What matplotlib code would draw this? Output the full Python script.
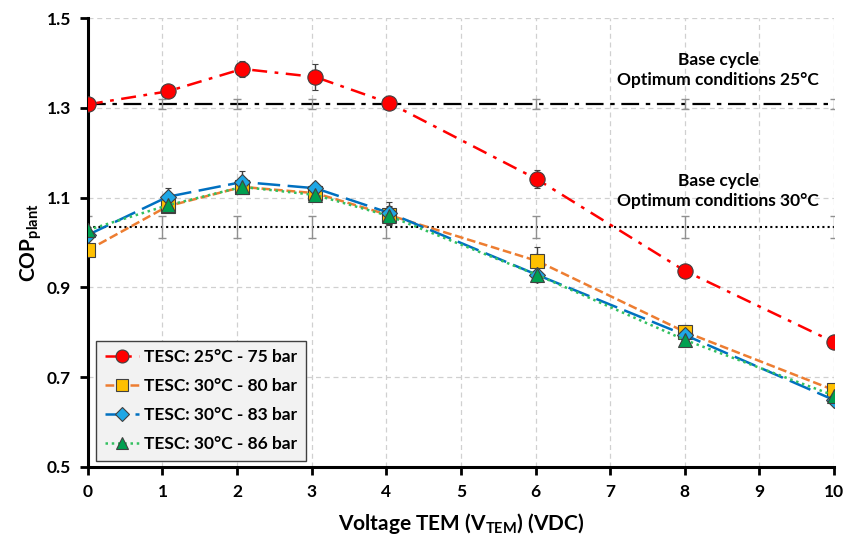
import numpy as np
import matplotlib.pyplot as plt
from matplotlib.lines import Line2D

plt.rcParams['font.family'] = ['Lato', 'DejaVu Sans']
plt.rcParams['font.weight'] = 'bold'
plt.rcParams['mathtext.fontset'] = 'custom'
plt.rcParams['mathtext.rm'] = 'Lato'
plt.rcParams['mathtext.bf'] = 'Lato:bold'

# measured points (x is slightly off the integer voltages)
volt = [0, 1.07, 2.07, 3.05, 4.04, 6.02, 8.0, 10]
cop_25_75 = [1.308, 1.337, 1.387, 1.369, 1.311, 1.141, 0.937, 0.778]
err_25_75 = [0.005, 0.012, 0.018, 0.030, 0.008, 0.020, 0.008, 0.008]
cop_30_80 = [0.983, 1.081, 1.124, 1.110, 1.061, 0.959, 0.801, 0.671]
err_30_80 = [0.006, 0.012, 0.012, 0.010, 0.020, 0.030, 0.015, 0.008]
cop_30_83 = [1.017, 1.102, 1.135, 1.121, 1.066, 0.928, 0.794, 0.649]
err_30_83 = [0.006, 0.020, 0.025, 0.012, 0.025, 0.015, 0.010, 0.006]
cop_30_86 = [1.028, 1.083, 1.124, 1.106, 1.059, 0.928, 0.783, 0.659]
err_30_86 = [0.006, 0.012, 0.012, 0.010, 0.020, 0.015, 0.010, 0.006]

labels = ['TESC: 25°C - 75 bar', 'TESC: 30°C - 80 bar',
          'TESC: 30°C - 83 bar', 'TESC: 30°C - 86 bar']

# base cycle references
base_x = [0, 1, 2, 3, 4, 6, 8, 10]
base_25 = 1.308
base_25_err = 0.011
base_30 = 1.035
base_30_err = 0.025

fig, ax = plt.subplots(figsize=(8.45, 5.36), dpi=100)
fig.subplots_adjust(left=0.104, right=0.987, top=0.966, bottom=0.129)

ax.grid(True, ls=(0, (4, 3)), color='#d0d0d0', lw=0.9, zorder=0)

# base lines with their error bars
ax.plot([0, 10], [base_25, base_25], color='black', lw=1.6,
        ls=(0, (8, 3, 2, 3)), zorder=2)
ax.errorbar(base_x, [base_25]*len(base_x), yerr=base_25_err, fmt='none',
            ecolor='#909090', elinewidth=1, capsize=3, zorder=2)
ax.plot([0, 10], [base_30, base_30], color='black', lw=1.5,
        ls=(0, (1, 1.5)), zorder=2)
ax.errorbar(base_x, [base_30]*len(base_x), yerr=base_30_err, fmt='none',
            ecolor='#909090', elinewidth=1, capsize=3, zorder=2)

styles = [
    dict(color='#ff0000', ls=(0, (6, 3, 1.5, 3)), marker='o', ms=11, mfc='#ff0000'),
    dict(color='#ed7d31', ls=(0, (3.5, 1.5)), marker='s', ms=10, mfc='#ffc000'),
    dict(color='#0070c0', ls=(0, (9, 3)), marker='D', ms=8, mfc='#1ea7e6'),
    dict(color='#33c060', ls=(0, (1, 1.5)), marker='^', ms=10, mfc='#00a050'),
]
series = [(cop_25_75, err_25_75), (cop_30_80, err_30_80),
          (cop_30_83, err_30_83), (cop_30_86, err_30_86)]

handles = []
for i, ((y, e), st, lab) in enumerate(zip(series, styles, labels)):
    ax.errorbar(volt, y, yerr=e, color=st['color'], lw=1.8, ls=st['ls'],
                marker=st['marker'], ms=st['ms'], mfc=st['mfc'],
                mec='#404040', mew=0.8, ecolor='#404040', elinewidth=1,
                capsize=2.5, zorder=5 if i == 0 else 4)
    handles.append(Line2D([], [], color=st['color'], lw=1.8, ls=st['ls'],
                          marker=st['marker'], ms=st['ms'] * 0.85,
                          mfc=st['mfc'], mec='#404040', mew=0.8, label=lab))

ax.text(8.45, 1.345, 'Base cycle\nOptimum conditions 25°C', ha='center',
        va='bottom', fontsize=12.5, fontweight='bold', linespacing=1.3)
ax.text(8.45, 1.075, 'Base cycle\nOptimum conditions 30°C', ha='center',
        va='bottom', fontsize=12.5, fontweight='bold', linespacing=1.3)

ax.set_xlim(0, 10)
ax.set_ylim(0.5, 1.5)
ax.set_xticks(np.arange(0, 11, 1))
ax.set_yticks(np.arange(0.5, 1.51, 0.2))
ax.set_yticklabels(['0.5', '0.7', '0.9', '1.1', '1.3', '1.5'])
ax.tick_params(labelsize=12.5, width=2, length=6, direction='out', pad=6)
for s in ['top', 'right']:
    ax.spines[s].set_visible(False)
for s in ['left', 'bottom']:
    ax.spines[s].set_linewidth(2.2)
ax.set_axisbelow(True)

ax.set_xlabel(r'Voltage TEM (V$_\mathbf{TEM}$) (VDC)', fontsize=15,
              fontweight='bold', labelpad=8)
ax.set_ylabel(r'COP$_\mathbf{plant}$', fontsize=15, fontweight='bold',
              labelpad=2)

leg = ax.legend(handles=handles, loc='lower left',
                bbox_to_anchor=(0.011, 0.013), borderaxespad=0, fontsize=12.5,
                frameon=True, fancybox=False, facecolor='#f2f2f2',
                edgecolor='#404040', framealpha=1, handlelength=2.0,
                handletextpad=0.25, labelspacing=0.75, borderpad=0.5)
leg.get_frame().set_linewidth(1)

fig.savefig('out.png', dpi=100)
